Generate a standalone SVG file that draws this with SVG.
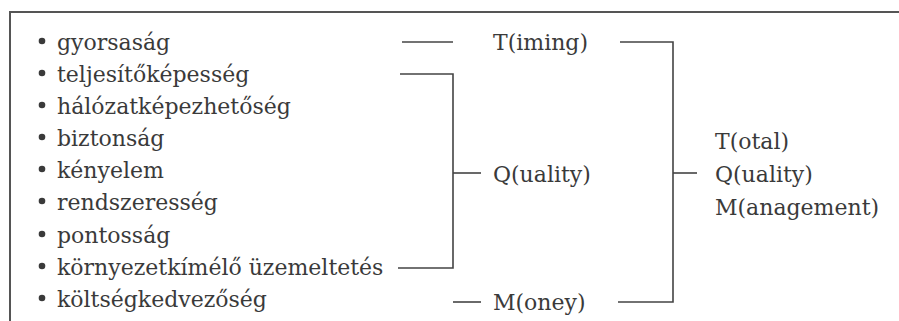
<svg xmlns="http://www.w3.org/2000/svg" width="899" height="321" viewBox="0 0 899 321">
<style>
text{font-family:"DejaVu Serif","Liberation Serif",serif;font-size:22px;fill:#3a3a3a}
.ln{stroke:#444;stroke-width:1.6;fill:none}
.fr{stroke:#555;stroke-width:2;fill:none}
.b{fill:#3a3a3a}
</style>
<rect width="899" height="321" fill="#fff"/>
<path class="fr" d="M10,321 V12 H899"/>
<g id="list">
<circle class="b" cx="42" cy="41" r="3.3"/><text x="57" y="50">gyorsaság</text>
<circle class="b" cx="42" cy="73" r="3.3"/><text x="57" y="82">teljesítőképesség</text>
<circle class="b" cx="42" cy="105" r="3.3"/><text x="57" y="114">hálózatképezhetőség</text>
<circle class="b" cx="42" cy="137" r="3.3"/><text x="57" y="146">biztonság</text>
<circle class="b" cx="42" cy="169" r="3.3"/><text x="57" y="178">kényelem</text>
<circle class="b" cx="42" cy="201" r="3.3"/><text x="57" y="210">rendszeresség</text>
<circle class="b" cx="42" cy="234" r="3.3"/><text x="57" y="243">pontosság</text>
<circle class="b" cx="42" cy="266" r="3.3"/><text x="57" y="275">környezetkímélő üzemeltetés</text>
<circle class="b" cx="42" cy="298" r="3.3"/><text x="57" y="307">költségkedvezőség</text>
</g>
<g id="timing"><text x="493" y="50">T(iming)</text></g>
<g id="quality"><text x="493" y="182">Q(uality)</text></g>
<g id="money"><text x="493" y="310">M(oney)</text></g>
<g id="tqm">
<text x="715" y="149">T(otal)</text>
<text x="715" y="182">Q(uality)</text>
<text x="715" y="215">M(anagement)</text>
</g>
<g id="connectors">
<path class="ln" d="M402,42 H453"/>
<path class="ln" d="M400,74 H453 V268 H398"/>
<path class="ln" d="M453,173 H481"/>
<path class="ln" d="M453,302 H481"/>
<path class="ln" d="M620,42 H673 V302 H618"/>
<path class="ln" d="M673,173 H697"/>
</g>
</svg>
